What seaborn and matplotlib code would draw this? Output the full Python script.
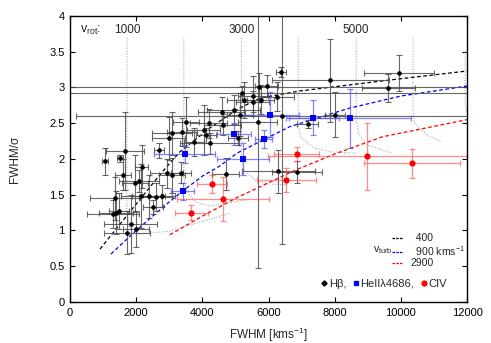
import matplotlib
matplotlib.use('Agg')
import matplotlib.pyplot as plt
from matplotlib.lines import Line2D
from matplotlib.ticker import FormatStrFormatter
import pandas as pd
import seaborn as sns

# H-beta points (FWHM, FWHM/sigma and errors)
hb_fwhm = [1055, 1510, 1660, 1600, 2170, 2690, 2990, 3080, 3380, 3500, 3740, 4040, 4190, 4220,
           4100, 4610, 4580, 4945, 5130, 5250, 5520, 5520, 5760, 5940, 5700, 5200, 5670, 6270,
           6390, 6420, 7870, 9620, 9950, 8020, 7180, 4700, 6300, 6870, 1360, 2140, 2380, 2590,
           2770, 2500, 1300, 1390, 1480, 1840, 1720, 1990, 2080, 1960, 2920, 3080, 3350, 5070]
hb_ratio = [1.97, 2.01, 2.11, 1.78, 1.89, 2.12, 2.29, 2.36, 2.38, 2.52, 2.24, 2.41, 2.50, 2.22,
            2.33, 2.48, 2.66, 2.69, 2.62, 2.83, 2.88, 2.80, 2.83, 3.02, 3.00, 2.92, 2.52, 2.87,
            3.22, 2.60, 3.10, 2.99, 3.20, 2.62, 2.49, 1.79, 1.83, 1.82, 1.45, 1.48, 1.48, 1.47,
            1.48, 1.33, 1.23, 1.25, 1.27, 1.09, 0.97, 1.02, 1.69, 1.66, 1.80, 1.77, 1.81, 2.29]
hb_xerr = [100, 100, 570, 250, 200, 150, 500, 600, 450, 400, 300, 500, 550, 900,
           300, 550, 700, 800, 400, 500, 450, 500, 400, 350, 7000, 7000, 600, 500,
           150, 6250, 1780, 800, 1050, 300, 330, 400, 1100, 750, 750, 600, 500, 500,
           400, 300, 800, 500, 300, 800, 700, 400, 600, 400, 500, 400, 300, 300]
hb_yerr = [0.19, 0.05, 0.55, 0.22, 0.30, 0.10, 0.30, 0.30, 0.20, 0.35, 0.20, 0.35, 0.20, 0.15,
           0.10, 0.15, 0.20, 0.20, 0.30, 0.25, 0.28, 0.15, 0.20, 0.15, 0.20, 0.10, 2.05, 0.20,
           0.07, 1.79, 0.58, 0.20, 0.25, 0.31, 0.05, 0.23, 0.30, 0.15, 0.30, 0.45, 0.30, 0.20,
           0.15, 0.10, 0.20, 0.30, 0.25, 0.40, 0.30, 0.25, 0.15, 0.40, 0.20, 0.25, 0.15, 0.10]

# HeII 4686 points
he_fwhm = [3470, 3400, 4950, 5850, 5220, 6030, 7330, 8470]
he_ratio = [2.07, 1.55, 2.35, 2.28, 2.00, 2.62, 2.58, 2.57]
he_xerr = [920, 360, 510, 260, 790, 900, 800, 1850]
he_yerr = [0.12, 0.12, 0.15, 0.12, 0.22, 0.31, 0.24, 0.41]

# CIV points
civ_fwhm = [6850, 8990, 10340, 6540, 4290, 4610, 3670]
civ_ratio = [2.07, 2.04, 1.94, 1.71, 1.65, 1.44, 1.25]
civ_xerr = [680, 3000, 1450, 880, 440, 1390, 500]
civ_yerr = [0.10, 0.47, 0.20, 0.17, 0.13, 0.31, 0.10]

# model curves for v_turb
turb400_x = [905, 2000, 2770, 3320, 4220, 5000, 5730, 6930, 9950, 12000]
turb400_y = [0.74, 1.37, 1.81, 2.10, 2.43, 2.68, 2.85, 2.95, 3.12, 3.23]
turb900_x = [1235, 2000, 3000, 3400, 4000, 4520, 5040, 6630, 8440, 10000, 12000]
turb900_y = [0.67, 1.00, 1.40, 1.55, 1.76, 1.90, 2.08, 2.45, 2.71, 2.88, 3.02]
turb2900_x = [3015, 4000, 5000, 6840, 8000, 9440, 12000]
turb2900_y = [0.94, 1.20, 1.45, 1.85, 2.07, 2.31, 2.55]

# lines of constant v_rot
rot_x = {
    1000: [1720, 1720, 1780, 2100, 3000, 4820],
    2000: [3440, 3440, 3520, 3800, 4220, 5340],
    3000: [5180, 5180, 5260, 5600, 6000, 6540],
    4000: [6900, 6900, 6980, 7400, 7900, 8650],
    5000: [8650, 8650, 8720, 8960, 9740],
    6000: [10370, 10370, 10420, 10800, 11250],
    7000: [11940, 11940, 12000],
}
rot_y = {
    1000: [3.69, 1.30, 1.05, 0.95, 0.99, 1.24],
    2000: [3.69, 1.75, 1.55, 1.40, 1.34, 1.43],
    3000: [3.69, 2.00, 1.85, 1.70, 1.65, 1.64],
    4000: [3.69, 2.45, 2.30, 2.15, 2.10, 2.08],
    5000: [3.69, 2.55, 2.35, 2.20, 2.08],
    6000: [3.69, 2.70, 2.50, 2.33, 2.24],
    7000: [3.50, 2.75, 2.65],
}
rot_labels = [1000, 3000, 5000]

sns.set_style("ticks")
plt.rcParams['font.family'] = ['Liberation Sans', 'DejaVu Sans']
plt.rcParams['mathtext.fontset'] = 'custom'
plt.rcParams['mathtext.rm'] = 'Liberation Sans'
plt.rcParams['mathtext.it'] = 'Liberation Sans:italic'

fig = plt.figure(figsize=(4.91, 3.43), dpi=100)
ax = fig.add_axes([0.1426, 0.1195, 0.8086, 0.834])

# v_rot dotted lines
for v in rot_x:
    sns.lineplot(x=rot_x[v], y=rot_y[v], ax=ax, sort=False, estimator=None,
                 color='0.6', lw=0.7, linestyle=':')

# v_turb dashed curves
turb = [(turb400_x, turb400_y, 'black'), (turb900_x, turb900_y, 'blue'),
        (turb2900_x, turb2900_y, 'red')]
for xs, ys, c in turb:
    sns.lineplot(x=xs, y=ys, ax=ax, sort=False, estimator=None, color=c,
                 lw=0.9, linestyle=(0, (3, 2)))

# error bars
ax.errorbar(hb_fwhm, hb_ratio, xerr=hb_xerr, yerr=hb_yerr, fmt='none', ecolor='0.3',
            elinewidth=0.8, capsize=2, capthick=0.8, alpha=0.85)
ax.errorbar(he_fwhm, he_ratio, xerr=he_xerr, yerr=he_yerr, fmt='none', ecolor='#5050ff',
            elinewidth=0.9, capsize=2, capthick=0.9, alpha=0.7)
ax.errorbar(civ_fwhm, civ_ratio, xerr=civ_xerr, yerr=civ_yerr, fmt='none', ecolor='#ff5050',
            elinewidth=0.9, capsize=2, capthick=0.9, alpha=0.65)

# points
df_hb = pd.DataFrame({'fwhm': hb_fwhm, 'ratio': hb_ratio})
df_he = pd.DataFrame({'fwhm': he_fwhm, 'ratio': he_ratio})
df_civ = pd.DataFrame({'fwhm': civ_fwhm, 'ratio': civ_ratio})
sns.scatterplot(data=df_hb, x='fwhm', y='ratio', ax=ax, color='black', marker='o', s=11,
                linewidth=0, zorder=5)
sns.scatterplot(data=df_he, x='fwhm', y='ratio', ax=ax, color='blue', marker='s', s=22,
                linewidth=0, zorder=5)
sns.scatterplot(data=df_civ, x='fwhm', y='ratio', ax=ax, color='red', marker='o', s=20,
                linewidth=0, zorder=5)

ax.set_xlim(0, 12000)
ax.set_ylim(0, 4)
ax.set_xticks(range(0, 12001, 2000))
ax.set_yticks([0, 0.5, 1, 1.5, 2, 2.5, 3, 3.5, 4])
ax.yaxis.set_major_formatter(FormatStrFormatter('%g'))
ax.tick_params(direction='in', length=3.5, width=0.8, top=True, right=True,
               labelsize=8, pad=4, colors='black')
for sp in ax.spines.values():
    sp.set_visible(True)
    sp.set_linewidth(1.0)
    sp.set_color('black')
ax.set_xlabel('FWHM [kms$^{-1}$]', fontsize=8.5, labelpad=6)
ax.set_ylabel('FWHM/σ', fontsize=8.5, labelpad=20)

# v_rot labels
ax.text(300, 3.80, 'v$_{\\rm rot}$:', fontsize=9, ha='left', va='center')
for v in rot_labels:
    ax.text(rot_x[v][0], 3.80, str(v), fontsize=8.5, ha='center', va='center')

# v_turb legend
turb_handles = [Line2D([], [], color=c, lw=0.9, linestyle=(0, (2, 1))) for _, _, c in turb]
leg1 = ax.legend(turb_handles, ['  400', '  900 kms$^{-1}$', '2900'], loc='upper left',
                 bbox_to_anchor=(0.812, 0.24), frameon=False, fontsize=7.5,
                 handlelength=1.0, handletextpad=0.7, labelspacing=0.05,
                 borderpad=0, borderaxespad=0)
ax.add_artist(leg1)
ax.text(0.762, 0.182, 'v$_{\\rm turb}$', transform=ax.transAxes, fontsize=7.5,
        ha='left', va='center')

# species legend
mk_handles = [Line2D([], [], color='black', marker='D', ms=2.6, lw=0),
              Line2D([], [], color='blue', marker='s', ms=3.5, lw=0),
              Line2D([], [], color='red', marker='o', ms=3.5, lw=0)]
ax.legend(mk_handles, ['Hβ,', 'HeIIλ4686,', 'CIV'], loc='center left',
          bbox_to_anchor=(0.632, 0.063), frameon=False, fontsize=8, ncol=3,
          handlelength=0.5, handletextpad=0.2, columnspacing=0.6,
          borderpad=0, borderaxespad=0)

fig.savefig('out.png', dpi=100)
